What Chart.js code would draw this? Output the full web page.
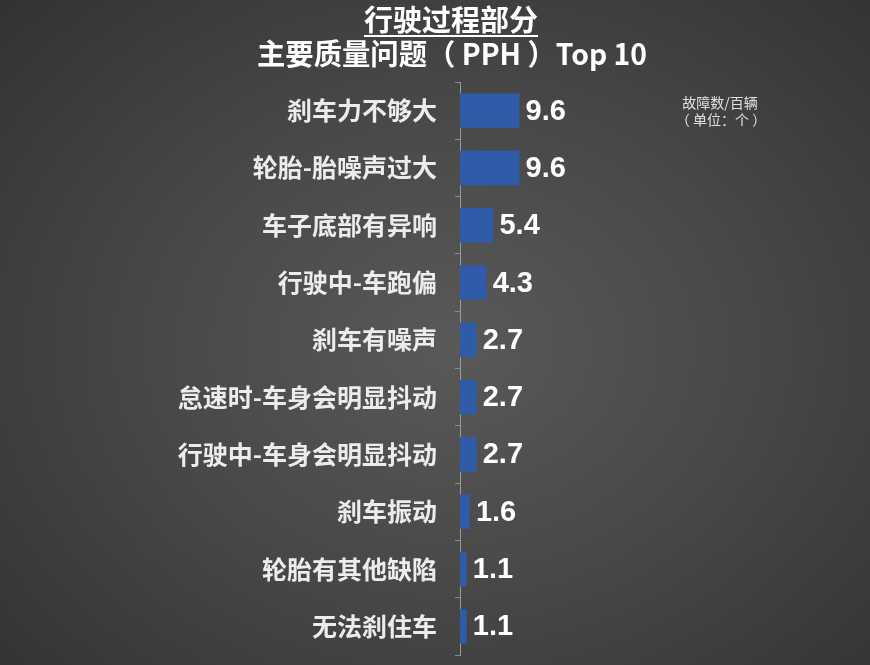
<!DOCTYPE html>
<html>
<head>
<meta charset="utf-8">
<script src="https://cdn.jsdelivr.net/npm/chart.js@4.4.0/dist/chart.umd.min.js"></script>
<style>
  html, body { margin: 0; padding: 0; }
  body {
    width: 870px; height: 665px; overflow: hidden;
    background: radial-gradient(ellipse 75% 80% at 52% 52%, #595959 0%, #484848 45%, #303030 100%);
  }
  #wrap { position: relative; width: 870px; height: 665px; }
</style>
</head>
<body>
<div id="wrap"><canvas id="pphChart" width="870" height="665"></canvas></div>
<script>
const titleLine1 = '行驶过程部分';
const titleLine2 = '主要质量问题（ PPH ）Top 10';
const unitNote = ['故障数/百辆', '（ 单位：个 ）'];

const categories = [
  '刹车力不够大',
  '轮胎-胎噪声过大',
  '车子底部有异响',
  '行驶中-车跑偏',
  '刹车有噪声',
  '怠速时-车身会明显抖动',
  '行驶中-车身会明显抖动',
  '刹车振动',
  '轮胎有其他缺陷',
  '无法刹住车'
];
const values = [9.6, 9.6, 5.4, 4.3, 2.7, 2.7, 2.7, 1.6, 1.1, 1.1];

const cjkFont = '"Noto Sans CJK SC", "Noto Sans", sans-serif';
const numFont = '"Liberation Sans", Arial, sans-serif';

// titles, unit note and value labels
const overlayText = {
  id: 'overlayText',
  afterDatasetsDraw(chart) {
    const ctx = chart.ctx;
    ctx.save();
    ctx.fillStyle = '#ffffff';
    ctx.textAlign = 'center';
    ctx.textBaseline = 'alphabetic';

    ctx.font = 'bold 29px ' + cjkFont;
    ctx.fillText(titleLine1, 451, 31);
    const w1 = ctx.measureText(titleLine1).width;
    ctx.fillRect(451 - w1 / 2, 35, w1, 2);

    ctx.font = 'bold 29px ' + cjkFont;
    const w2 = ctx.measureText(titleLine2).width;
    const sx = 390 / w2;
    ctx.save();
    ctx.translate(452, 65);
    ctx.scale(sx, 1);
    ctx.fillText(titleLine2, 0, 0);
    ctx.restore();

    ctx.fillStyle = '#e0e0e0';
    ctx.font = '14px ' + cjkFont;
    ctx.fillText(unitNote[0], 720, 108);
    ctx.fillText(unitNote[1], 721, 125);

    // value labels at bar ends
    ctx.fillStyle = '#ffffff';
    ctx.textAlign = 'left';
    ctx.textBaseline = 'middle';
    ctx.font = 'bold 29px ' + numFont;
    const meta = chart.getDatasetMeta(0);
    meta.data.forEach((bar, i) => {
      ctx.fillText(values[i].toFixed(1), bar.x + 6, bar.y + 1);
    });
    ctx.restore();
  }
};

new Chart(document.getElementById('pphChart'), {
  type: 'bar',
  data: {
    labels: categories,
    datasets: [{
      data: values,
      backgroundColor: '#2f5ba8',
      borderWidth: 0,
      barPercentage: 0.6,
      categoryPercentage: 1.0
    }]
  },
  options: {
    indexAxis: 'y',
    responsive: false,
    animation: false,
    events: [],
    layout: { padding: { top: 82, bottom: 10, left: 0, right: 286 } },
    plugins: {
      legend: { display: false },
      tooltip: { enabled: false }
    },
    scales: {
      x: {
        display: false,
        min: 0,
        max: 20
      },
      y: {
        afterFit(scale) {
          scale.width = 460;
          scale.paddingTop = 0;
          scale.paddingBottom = 0;
        },
        border: { display: true, color: '#9a9a9a', width: 1 },
        grid: {
          drawOnChartArea: false,
          drawTicks: true,
          tickLength: 5,
          color: '#8a8a8a'
        },
        ticks: {
          color: '#ececec',
          padding: 18,
          font: { family: cjkFont, size: 25, weight: 'bold' }
        }
      }
    }
  },
  plugins: [overlayText]
});
</script>
</body>
</html>
